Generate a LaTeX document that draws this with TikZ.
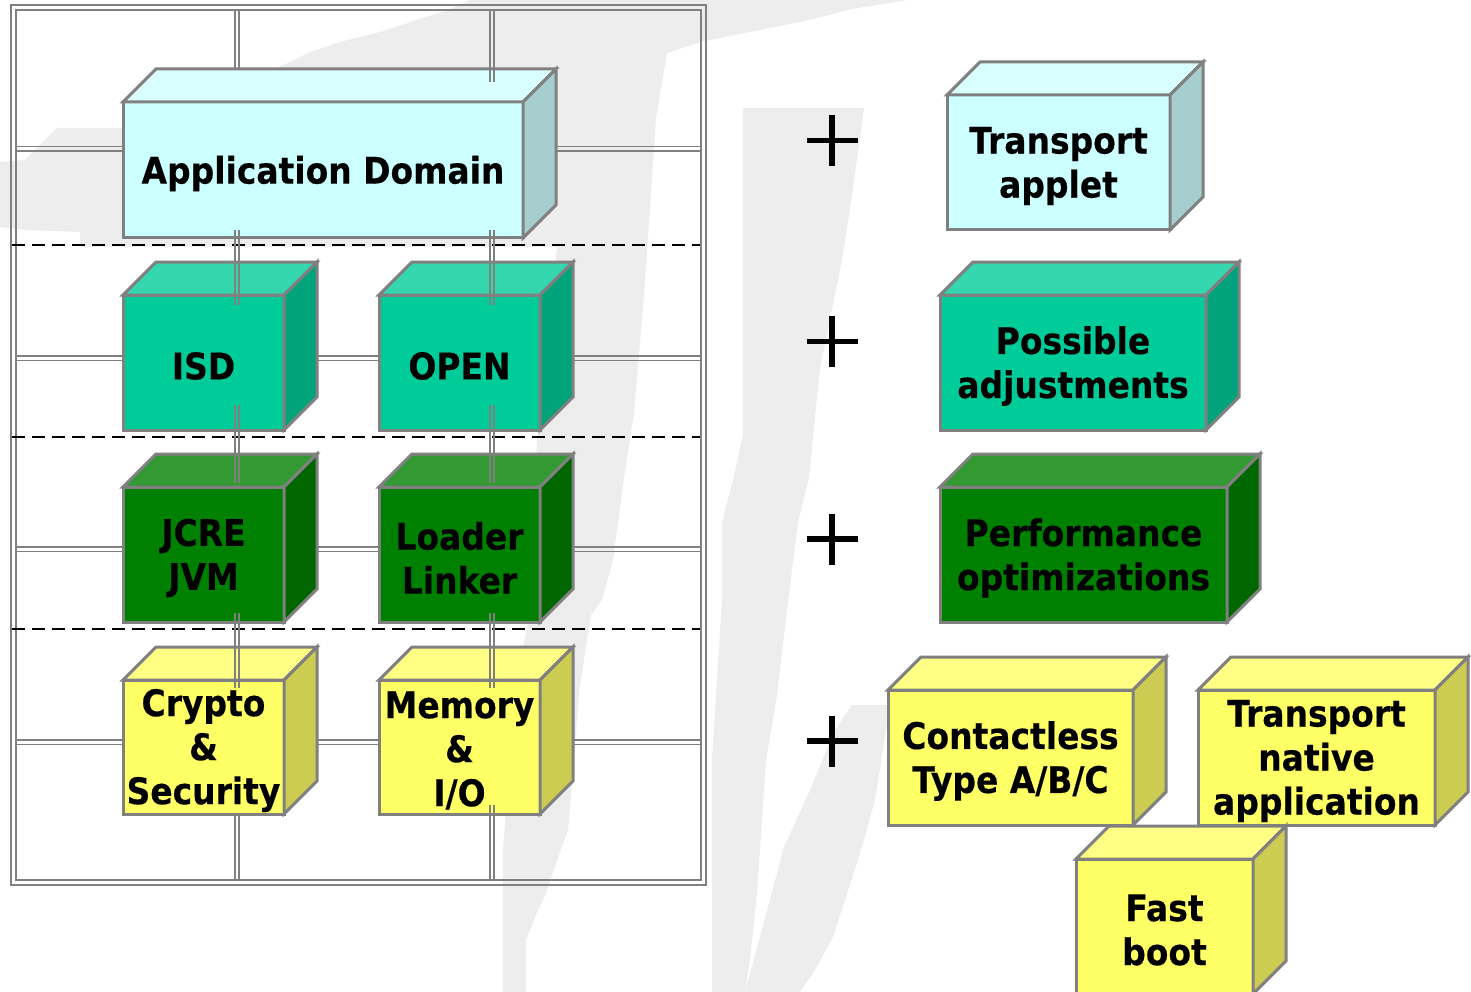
\documentclass[tikz,border=0pt]{standalone}
\usepackage{fontspec}
\newfontfamily\boxfont[FakeStretch=0.9,FakeBold=0.4]{DejaVu Sans}
\definecolor{edge}{RGB}{128,128,128}
\definecolor{gridc}{RGB}{128,128,128}
\definecolor{wm}{RGB}{237,237,237}
\definecolor{cyF}{RGB}{204,255,255}
\definecolor{cyT}{RGB}{217,255,255}
\definecolor{cyS}{RGB}{166,206,206}
\definecolor{tlF}{RGB}{0,204,153}
\definecolor{tlT}{RGB}{51,214,173}
\definecolor{tlS}{RGB}{0,163,122}
\definecolor{gnF}{RGB}{0,128,0}
\definecolor{gnT}{RGB}{51,153,51}
\definecolor{gnS}{RGB}{0,102,0}
\definecolor{ylF}{RGB}{255,255,102}
\definecolor{ylT}{RGB}{255,255,133}
\definecolor{ylS}{RGB}{204,204,82}
\tikzset{
  cubefront/.style={draw=edge, line width=3pt, inner sep=0pt, outer sep=0pt, rectangle},
  cubeedge/.style={draw=edge, line width=3pt, line join=miter},
  cubetext/.style={font=\boxfont\bfseries\fontsize{36.6}{44}\selectfont, align=center, inner sep=0pt, text=black},
  gl/.style={draw=gridc, line width=1.8pt},
  layerdash/.style={draw=black, line width=1.8pt, dash pattern=on 13pt off 7pt},
  plusline/.style={draw=black, line width=5.5pt},
  wmark/.style={fill=wm, draw=none}
}
\newcommand\cubebox[8]{%
  \node[cubefront, fill=#5, minimum width=#3, minimum height=#4] (#1) at (#2) {};
  \draw[cubeedge, fill=#6] (#1.north west) -- ++(33,-33) -- ([shift={(33,-33)}]#1.north east) -- (#1.north east) -- cycle;
  \draw[cubeedge, fill=#7] (#1.north east) -- ++(33,-33) -- ([shift={(33,-33)}]#1.south east) -- (#1.south east) -- cycle;
  \node[cubetext] (#1-text) at ([yshift=-3.5pt]#1.center) {#8};
}
\begin{document}
\begin{tikzpicture}[x=1pt,y=-1pt]
\useasboundingbox[fill=white] (0,0) rectangle (1471,992);
% watermark
\fill[wmark] (470,0) -- (907,0) -- (852,9) -- (809,20) -- (755,31) -- (700,42) -- (667,53) -- (656,118) -- (645,282) -- (634,413) -- (624,478) -- (613,560) -- (602,600) -- (591,615) -- (580,685) -- (568,830) -- (558,858) -- (546,893) -- (536,915) -- (526,940) -- (526,992) -- (503,992) -- (503,850) -- (515,683) -- (527,630) -- (537,440) -- (557,247) -- (80,247) -- (80,232) -- (25,230) -- (0,227) -- (0,162) -- (25,160) -- (57,128) -- (122,128) -- (286,64) -- (308,53) -- (340,42) -- (384,31) -- (417,20) -- (448,10) -- cycle;
\fill[wmark] (743,108) -- (864,108) -- (852,195) -- (842,260) -- (820,368) -- (809,478) -- (798,522) -- (787,610) -- (777,695) -- (766,760) -- (757,893) -- (750,960) -- (745,992) -- (712,992) -- (712,760) -- (722,600) -- (722,522) -- (733,480) -- (743,435) -- cycle;
\fill[wmark] (852,705) -- (890,705) -- (875,800) -- (862,847) -- (833,937) -- (815,970) -- (800,992) -- (745,992) -- (760,937) -- (784,847) -- (810,790) -- (835,730) -- cycle;
% frame and grid
\draw[gl] (11,5) rectangle (706,885);
\draw[gl] (16,10) rectangle (701,880);
\foreach \y in {149,358,549,742} {
  \draw[gl] (16,\y-2.4) -- (701,\y-2.4);
  \draw[gl] (16,\y+2.4) -- (701,\y+2.4);
}
\foreach \x in {237,492} {
  \draw[gl] (\x-2.2,10) -- (\x-2.2,880);
  \draw[gl] (\x+2.2,10) -- (\x+2.2,880);
}
\foreach \y in {245,437,629} {
  \draw[layerdash] (12,\y) -- (700,\y);
}
% left stack
\cubebox{app}{323,170}{400}{136}{cyF}{cyT}{cyS}{Application Domain}
\cubebox{isd}{203.5,362.5}{161}{135}{tlF}{tlT}{tlS}{ISD}
\cubebox{open}{459.5,362.5}{161}{135}{tlF}{tlT}{tlS}{OPEN}
\cubebox{jcre}{203.5,554.5}{161}{135}{gnF}{gnT}{gnS}{JCRE\\JVM}
\cubebox{loader}{459.5,554.5}{161}{135}{gnF}{gnT}{gnS}{Loader\\Linker}
\cubebox{crypto}{203.5,747}{161}{134}{ylF}{ylT}{ylS}{Crypto\\\&\\Security}
\cubebox{memory}{459.5,747}{161}{134}{ylF}{ylT}{ylS}{Memory\\\&\\I/O}
% grid segments drawn over the boxes
\foreach \x/\a/\b in {237/230/305, 237/405/483, 237/613/688, 492/60/82, 492/230/305, 492/405/483, 492/613/688, 492/805/816} {
  \draw[gl] (\x-2.2,\a) -- (\x-2.2,\b);
  \draw[gl] (\x+2.2,\a) -- (\x+2.2,\b);
}
% plus signs
\foreach \y in {140.5,341.5,539,741} {
  \draw[plusline] (832,\y-25.5) -- (832,\y+25.5);
  \draw[plusline] (806.5,\y) -- (857.5,\y);
}
% right column
\cubebox{tapplet}{1058.5,162.5}{223}{135}{cyF}{cyT}{cyS}{Transport\\applet}
\cubebox{adjust}{1073,362.5}{266}{135}{tlF}{tlT}{tlS}{Possible\\adjustments}
\cubebox{perf}{1083.5,554.5}{287}{135}{gnF}{gnT}{gnS}{Performance\\optimizations}
\cubebox{contactless}{1010.5,757.5}{245}{135}{ylF}{ylT}{ylS}{Contactless\\Type A/B/C}
\cubebox{tnative}{1316.5,757.5}{237}{135}{ylF}{ylT}{ylS}{Transport\\native\\application}
\cubebox{fastboot}{1164.5,926.5}{177}{135}{ylF}{ylT}{ylS}{Fast\\boot}
\end{tikzpicture}
\end{document}
